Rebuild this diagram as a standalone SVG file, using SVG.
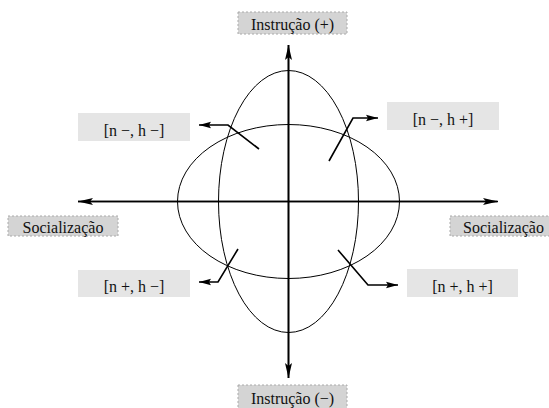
<svg xmlns="http://www.w3.org/2000/svg" width="549" height="408" viewBox="0 0 549 408">
<style>
text{font-family:'Liberation Serif','Times New Roman',Times,'DejaVu Serif',serif;font-size:16px;fill:#111;text-anchor:middle}
.axlab{fill:#d4d4d4;stroke:#aaa;stroke-width:1;stroke-dasharray:2,2}
.qlab{fill:#e5e5e5;stroke:none}
.axis{stroke:#000;stroke-width:1.6;fill:none}
.ell{stroke:#000;stroke-width:1;fill:none}
.lead{stroke:#000;stroke-width:1.6;fill:none}
</style>
<defs>
<marker id="ah" markerUnits="userSpaceOnUse" markerWidth="16" markerHeight="8" refX="15" refY="4" orient="auto">
<path d="M0,0.5 L15,4 L0,7.5 L3,4 z" fill="#000"/>
</marker>
<marker id="sh" markerUnits="userSpaceOnUse" markerWidth="13" markerHeight="8" refX="12" refY="4" orient="auto">
<path d="M0,0.8 L12,4 L0,7.2 L2,4 z" fill="#000"/>
</marker>
</defs>
<g id="shapes">
<ellipse class="ell" cx="288.5" cy="201.5" rx="70" ry="131"/>
<ellipse class="ell" cx="288.5" cy="201.5" rx="111" ry="77"/>
</g>
<g id="connectors">
<line class="axis" x1="288.5" y1="378" x2="288.5" y2="45" marker-end="url(#ah)"/>
<line class="axis" x1="288.5" y1="45" x2="288.5" y2="378" marker-end="url(#ah)"/>
<line class="axis" x1="497" y1="201.5" x2="78" y2="201.5" marker-end="url(#ah)"/>
<line class="axis" x1="78" y1="201.5" x2="498" y2="201.5" marker-end="url(#ah)"/>
<polyline class="lead" points="259,149 228,125 199,125" marker-end="url(#sh)"/>
<polyline class="lead" points="329,161 353,118 378,118" marker-end="url(#sh)"/>
<polyline class="lead" points="238,249 218,282 199,282" marker-end="url(#sh)"/>
<polyline class="lead" points="338,250 368,285 398,285" marker-end="url(#sh)"/>
</g>
<g id="n-top">
<rect class="axlab" x="238" y="12" width="109" height="22"/>
<text x="292.5" y="30">Instrução (+)</text>
</g>
<g id="n-bottom">
<rect class="axlab" x="238" y="385" width="109" height="24"/>
<text x="292.5" y="404">Instrução (−)</text>
</g>
<g id="n-left">
<rect class="axlab" x="8" y="216" width="110" height="20"/>
<text x="63" y="233">Socialização</text>
</g>
<g id="n-right">
<rect class="axlab" x="450" y="216" width="102" height="20"/>
<text x="503.5" y="233">Socialização</text>
</g>
<g id="n-nm-hm">
<rect class="qlab" x="78" y="113" width="112" height="28"/>
<text x="134" y="136">[n −, h −]</text>
</g>
<g id="n-nm-hp">
<rect class="qlab" x="387" y="102" width="112" height="28"/>
<text x="443" y="125">[n −, h +]</text>
</g>
<g id="n-np-hm">
<rect class="qlab" x="78" y="270" width="112" height="27"/>
<text x="134" y="292">[n +, h −]</text>
</g>
<g id="n-np-hp">
<rect class="qlab" x="407" y="269" width="111" height="28"/>
<text x="462.5" y="292">[n +, h +]</text>
</g>
</svg>
